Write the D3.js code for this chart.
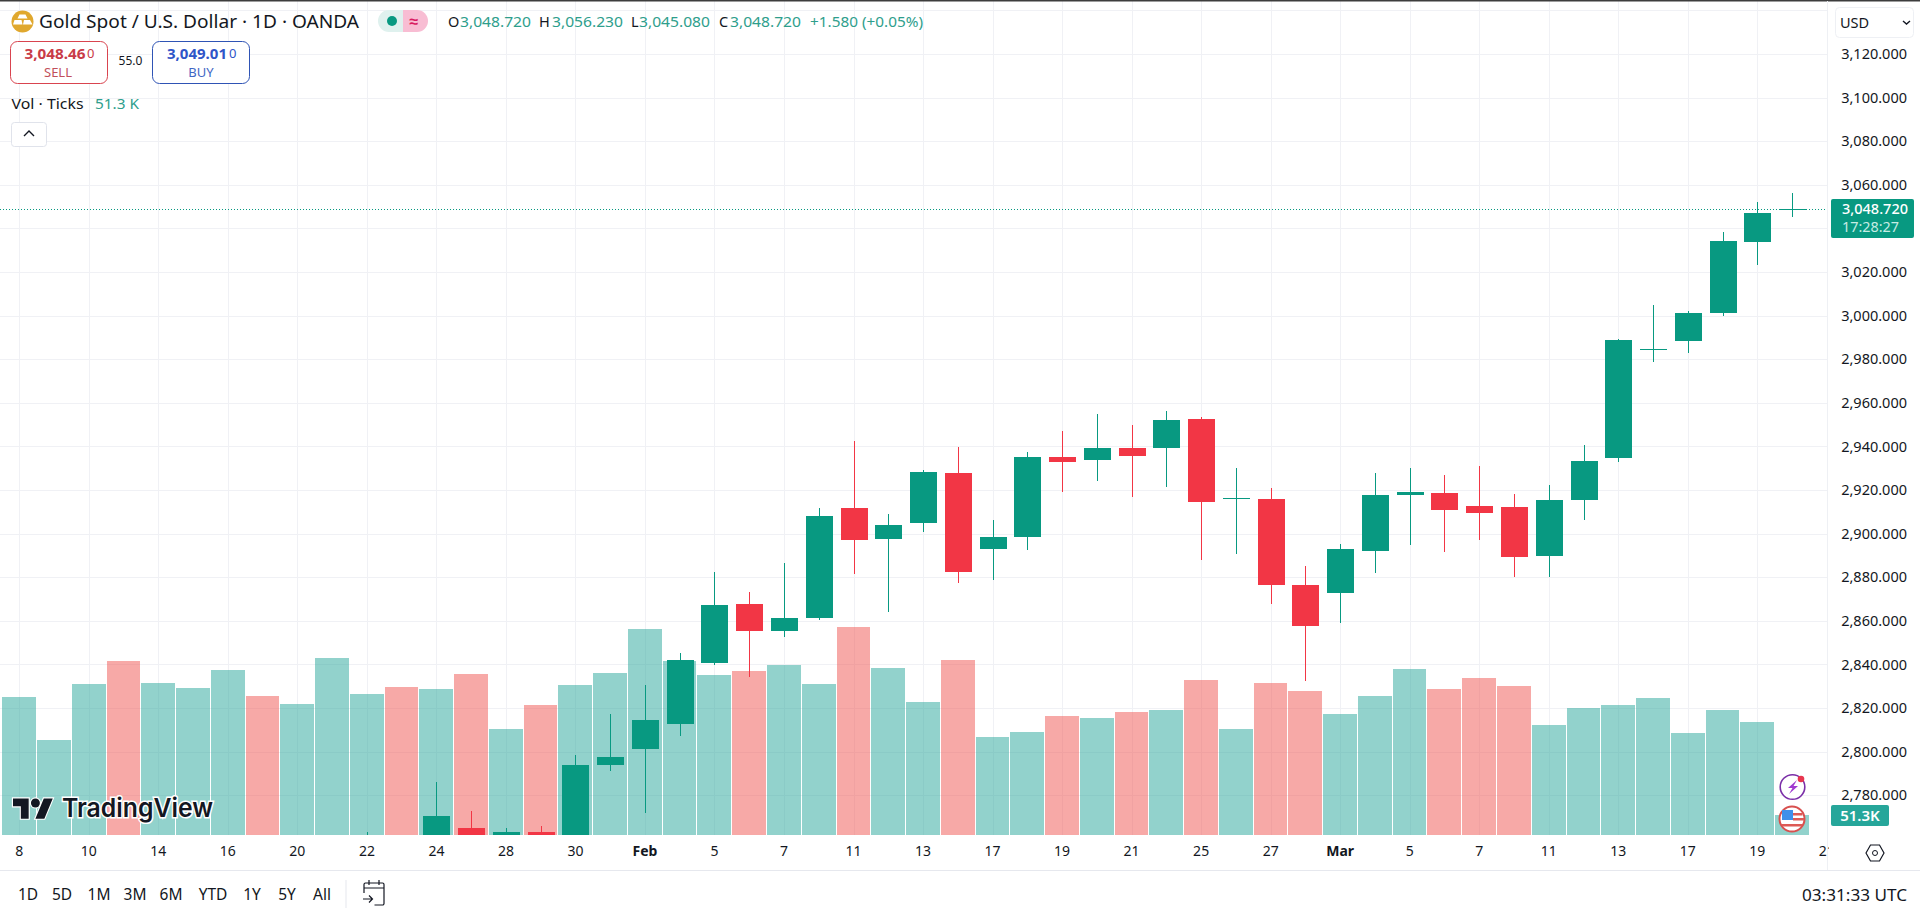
<!DOCTYPE html>
<meta charset="utf-8">
<style>
  html, body { margin: 0; background: #fff; overflow: hidden; }
  text { font-family: "Noto Sans", sans-serif; }
</style>
<script src="https://d3js.org/d3.v7.min.js"></script>
<div id="my_dataviz"></div>

<script>
// daily bars
const dates = ["Jan 8","Jan 9","Jan 10","Jan 13","Jan 14","Jan 15","Jan 16","Jan 17","Jan 20","Jan 21","Jan 22","Jan 23","Jan 24","Jan 27","Jan 28","Jan 29","Jan 30","Jan 31",
  "Feb 3","Feb 4","Feb 5","Feb 6","Feb 7","Feb 10","Feb 11","Feb 12","Feb 13","Feb 14","Feb 17","Feb 18","Feb 19","Feb 20","Feb 21","Feb 24","Feb 25","Feb 26","Feb 27","Feb 28",
  "Mar 3","Mar 4","Mar 5","Mar 6","Mar 7","Mar 10","Mar 11","Mar 12","Mar 13","Mar 14","Mar 17","Mar 18","Mar 19","Mar 20","Mar 21"];

// null = candle sits below the visible pane
const opens = [null,null,null,null,null,null,null,null,null,null,2745,null,
  2752,2765.1,2754,2763.3,2754,2794,2801.3,2812.8,2840.8,2867.8,2855.5,2861.4,2911.9,2897.7,
  2904.7,2927.9,2893.1,2898.3,2935.3,2933.9,2939.4,2939.4,2952.7,2916.3,2916,2876.6,2872.9,2892.2,
  2917.5,2918.8,2912.8,2912.3,2889.6,2915.2,2934.5,2984,2988.2,3001,3033.6,3048.72];
const highs = [null,null,null,null,null,null,null,null,null,null,2763.3,null,
  2786.2,2772.9,2765.1,2766,2798.6,2817.4,2830.7,2845.4,2882.5,2873.4,2886.7,2911.9,2942.6,2909.1,
  2929.2,2939.9,2906.4,2937.3,2947.2,2955,2949.9,2956.4,2953.6,2930.2,2921.1,2885.3,2895.4,2927.9,
  2930.1,2926.7,2930.8,2918.3,2922.4,2940.8,2989.2,3005,3002.2,3038.5,3052.2,3056.23];
const lows = [null,null,null,null,null,null,null,null,null,null,2740,null,
  2748,2748,2748,2748,2748,2791.2,2772,2807.3,2839.9,2834.3,2852.7,2860.5,2881.6,2864.2,
  2900.6,2877.2,2878.9,2892.3,2918.9,2924.3,2916.9,2921.5,2888,2890.8,2867.8,2832.5,2859.1,2882.1,
  2894.6,2891.4,2896.9,2880.2,2880.2,2906.1,2933,2978.5,2982.7,2999.7,3023,3045.08];
const closes = [null,null,null,null,null,null,null,null,null,null,2750,null,
  2770.6,2752,2763.3,2754,2794,2797.7,2814.6,2842.2,2867.4,2855.5,2861.4,2908.2,2897.2,2904.1,
  2928.4,2882.2,2898.6,2935.3,2933,2939.4,2935.7,2952.2,2914.6,2916.3,2876.6,2857.8,2893.1,2917.8,
  2919.2,2910.6,2909.3,2889.1,2915.5,2933.4,2988.9,2984.8,3001.3,3034.4,3047.2,3048.72];

// tick volume in thousands
const volumes = [354,244,387,446,390,377,423,357,336,454,362,380,374,413,272,333,385,416,528,446,410,421,436,387,534,428,
  341,449,251,264,305,300,316,321,398,272,390,369,310,357,426,374,403,382,282,326,333,351,262,321,290,51.3];
const downVolumeDates = ["Jan 13","Jan 17","Jan 23","Jan 27","Jan 29","Feb 6","Feb 11","Feb 14","Feb 19","Feb 21","Feb 25","Feb 27","Feb 28","Mar 6","Mar 7","Mar 10"];

const tickDates = ["Jan 8","Jan 10","Jan 14","Jan 16","Jan 20","Jan 22","Jan 24","Jan 28","Jan 30","Feb 3","Feb 5","Feb 7","Feb 11","Feb 13","Feb 17","Feb 19","Feb 21","Feb 25","Feb 27","Mar 3","Mar 5","Mar 7","Mar 11","Mar 13","Mar 17","Mar 19","Mar 21"];
const tickLabels = ["8","10","14","16","20","22","24","28","30","Feb","5","7","11","13","17","19","21","25","27","Mar","5","7","11","13","17","19","21"];
const priceGrid = [3140,3120,3100,3080,3060,3040,3020,3000,2980,2960,2940,2920,2900,2880,2860,2840,2820,2800,2780];
const priceLabels = [3120,3100,3080,3060,3020,3000,2980,2960,2940,2920,2900,2880,2860,2840,2820,2800,2780];
const rangeButtons = ["1D","5D","1M","3M","6M","YTD","1Y","5Y","All"];
const rangeCentres = [28,62,99,135,171,213,252,287,322];
const lastPrice = 3048.72;
const lastVolume = 51.3;

const up = "#089981", down = "#f23645";
const paneRight = 1827, paneBottom = 835;

const svg = d3.select("#my_dataviz").append("svg")
    .attr("width", 1920).attr("height", 911)
    .style("display", "block");

// scales
const x = d3.scaleBand().domain(dates).range([1.92, 1.92 + 34.76 * dates.length]);
const y = d3.scaleLinear().domain([3120, 2780]).range([54, 795.2]);
const yVol = d3.scaleLinear().domain([0, lastVolume]).range([paneBottom, paneBottom - 20]);
const cx = d => Math.round(x(d) + x.bandwidth() / 2);

svg.append("defs").append("clipPath").attr("id", "pane")
  .append("rect").attr("width", paneRight).attr("height", paneBottom);
svg.append("defs").append("clipPath").attr("id", "timeaxis")
  .append("rect").attr("y", paneBottom).attr("width", paneRight + 2).attr("height", 35);

// grid
const grid = svg.append("g").attr("stroke", "#f0f1f5").attr("shape-rendering", "crispEdges");
grid.selectAll(".h").data(priceGrid).join("line")
    .attr("x1", 0).attr("x2", paneRight)
    .attr("y1", d => Math.round(y(d)) + .5).attr("y2", d => Math.round(y(d)) + .5);
grid.selectAll(".v").data(tickDates).join("line")
    .attr("x1", d => cx(d) + .5).attr("x2", d => cx(d) + .5)
    .attr("y1", 1).attr("y2", paneBottom);

const pane = svg.append("g").attr("clip-path", "url(#pane)");

// volume, one pixel gap between bars
pane.append("g").attr("shape-rendering", "crispEdges")
  .selectAll("rect").data(dates.filter((d, i) => volumes[i] != null)).join("rect")
    .attr("x", d => cx(d) - 17)
    .attr("width", (d, i) => cx(dates[i + 1]) - cx(d) - 1)
    .attr("y", (d, i) => Math.round(yVol(volumes[i])))
    .attr("height", (d, i) => paneBottom - Math.round(yVol(volumes[i])))
    .attr("fill", d => downVolumeDates.includes(d) ? "#ef5350" : "#26a69a")
    .attr("fill-opacity", .5);

// last price line
pane.append("line")
    .attr("x1", 0).attr("x2", paneRight)
    .attr("y1", Math.round(y(lastPrice)) + .5).attr("y2", Math.round(y(lastPrice)) + .5)
    .attr("stroke", up).attr("stroke-dasharray", "1 2");

// candles
const candleData = dates.map((d, i) => ({date: d, o: opens[i], h: highs[i], l: lows[i], c: closes[i]}))
    .filter(d => d.o != null);
const candle = pane.append("g").attr("shape-rendering", "crispEdges")
  .selectAll("g").data(candleData).join("g")
    .attr("fill", d => d.c >= d.o ? up : down);
candle.append("rect")
    .attr("x", d => cx(d.date))
    .attr("width", 1)
    .attr("y", d => Math.round(y(d.h)))
    .attr("height", d => Math.round(y(d.l)) - Math.round(y(d.h)));
candle.append("rect")
    .attr("x", d => cx(d.date) - 13)
    .attr("width", 27)
    .attr("y", d => Math.round(y(Math.max(d.o, d.c))))
    .attr("height", d => Math.max(1, Math.round(y(Math.min(d.o, d.c))) - Math.round(y(Math.max(d.o, d.c)))));

// frame lines
svg.append("rect").attr("width", 1920).attr("height", 1.5).attr("fill", "#3d3d3d");
svg.append("rect").attr("y", 870).attr("width", 1920).attr("height", 1).attr("fill", "#e6e8ee");
svg.append("rect").attr("x", paneRight).attr("width", 1).attr("y", 1).attr("height", 869).attr("fill", "#eef0f4");

// axes
const priceAxis = svg.append("g").attr("transform", "translate(1907,0)")
    .call(d3.axisLeft(y).tickValues(priceLabels).tickFormat(d3.format(",.3f")).tickSize(0).tickPadding(0));
priceAxis.select(".domain").remove();
priceAxis.selectAll("text").attr("fill", "#131722").style("font-size", "14.5px").style("font-family", "'Noto Sans'");

const timeAxis = svg.append("g").attr("clip-path", "url(#timeaxis)")
  .append("g").attr("transform", "translate(0,846)")
    .call(d3.axisBottom(x).tickValues(tickDates).tickFormat((d, i) => tickLabels[i]).tickSize(0).tickPadding(0));
timeAxis.select(".domain").remove();
timeAxis.selectAll("text").attr("fill", "#131722").style("font-size", "14px").style("font-family", "'Noto Sans'")
    .style("font-weight", (d, i) => (tickLabels[i] === "Feb" || tickLabels[i] === "Mar") ? 700 : 400);

function label(px, py, str, size, fill, o) {
  o = o || {};
  const t = svg.append("text").attr("x", px).attr("y", py).attr("dy", ".35em")
      .attr("font-size", size).attr("fill", fill)
      .attr("text-anchor", o.anchor || "start")
      .attr("font-weight", o.weight || 400)
      .text(str);
  if (o.len) t.attr("textLength", o.len).attr("lengthAdjust", "spacingAndGlyphs");
  return t;
}

// header: symbol
svg.append("circle").attr("cx", 22.5).attr("cy", 21.5).attr("r", 11).attr("fill", "#e0a82e");
svg.append("g").attr("fill", "#fff").selectAll("path")
  .data(["M19.5 14.5h6l2 4h-10z", "M14.5 20h7l1 4.5h-9.5z", "M24 20h6l2.5 4.5h-9.5z"])
  .join("path").attr("d", d => d);
label(39, 22, "Gold Spot / U.S. Dollar · 1D · OANDA", 17.5, "#131722", {len: 320});

svg.append("path").attr("d", "M403 10h-14a11 11 0 0 0 0 22h14z").attr("fill", "#dff1ee");
svg.append("path").attr("d", "M403 10h14a11 11 0 0 1 0 22h-14z").attr("fill", "#f8bdd3");
svg.append("circle").attr("cx", 392).attr("cy", 21).attr("r", 5).attr("fill", up);
label(414, 21, "≈", 16, "#d81b60", {anchor: "middle", weight: 700});

// OHLC values
const ohlcText = [
  [448, "O", "#131722", 0], [460, "3,048.720", "#2e9e8c", 71],
  [539, "H", "#131722", 0], [552, "3,056.230", "#2e9e8c", 71],
  [631, "L", "#131722", 0], [639, "3,045.080", "#2e9e8c", 71],
  [719, "C", "#131722", 0], [730, "3,048.720", "#2e9e8c", 71],
  [810, "+1.580 (+0.05%)", "#2e9e8c", 113]];
ohlcText.forEach(d => label(d[0], 21.5, d[1], 14.5, d[2], d[3] ? {len: d[3]} : {}));

// sell / buy boxes
svg.append("rect").attr("x", 10.5).attr("y", 41.5).attr("width", 97).attr("height", 42).attr("rx", 7)
    .attr("fill", "#fff").attr("stroke", "#d9444f");
svg.append("rect").attr("x", 152.5).attr("y", 41.5).attr("width", 97).attr("height", 42).attr("rx", 7)
    .attr("fill", "#fff").attr("stroke", "#2f54b5");
label(24.5, 54, "3,048.46", 14, "#c93b47", {weight: 700, len: 61});
label(87, 53, "0", 13, "#c93b47");
label(58, 72, "SELL", 13, "#c24f5b", {anchor: "middle"});
label(130.5, 61, "55.0", 12, "#131722", {anchor: "middle"});
label(167, 54, "3,049.01", 14, "#2f55c8", {weight: 700, len: 60});
label(229, 53, "0", 13, "#2f55c8");
label(201, 72, "BUY", 13, "#3f66c4", {anchor: "middle"});

// volume legend + collapse button
label(11.5, 104, "Vol · Ticks", 14, "#131722", {len: 72});
label(95, 104, "51.3 K", 14, "#2e9e8c", {len: 44});
svg.append("rect").attr("x", 11.5).attr("y", 122.5).attr("width", 35).attr("height", 24).attr("rx", 3)
    .attr("fill", "#fff").attr("stroke", "#e0e3eb");
svg.append("path").attr("d", "M24 136l5-5 5 5").attr("fill", "none").attr("stroke", "#131722").attr("stroke-width", 1.4);

// currency selector
svg.append("rect").attr("x", 1835.5).attr("y", 7.5).attr("width", 78).attr("height", 30).attr("rx", 4)
    .attr("fill", "#fff").attr("stroke", "#eef0f4");
label(1840, 22.5, "USD", 14.5, "#131722");
svg.append("path").attr("d", "M1903 21l3.5 3 3.5-3").attr("fill", "none").attr("stroke", "#131722").attr("stroke-width", 1.4);

// price and volume tags
svg.append("rect").attr("x", 1831).attr("y", 199).attr("width", 83).attr("height", 39).attr("rx", 2).attr("fill", up);
label(1842, 209, d3.format(",.3f")(lastPrice), 15, "#fff", {weight: 500, len: 66});
label(1842, 227, "17:28:27", 15, "#c6ece4", {len: 57});
svg.append("rect").attr("x", 1831).attr("y", 805).attr("width", 58).attr("height", 21).attr("rx", 2).attr("fill", "#26a69a");
label(1860, 815.5, lastVolume + "K", 15, "#fff", {anchor: "middle", weight: 600});

// settings icon
svg.append("path").attr("d", "M1866 853l4.5-8h9l4.5 8-4.5 8h-9z").attr("fill", "none").attr("stroke", "#131722").attr("stroke-width", 1.2);
svg.append("circle").attr("cx", 1875).attr("cy", 853).attr("r", 2.5).attr("fill", "none").attr("stroke", "#131722");

// event icons
svg.append("circle").attr("cx", 1792.5).attr("cy", 787).attr("r", 12.3).attr("fill", "#fff").attr("stroke", "#7b2fa8").attr("stroke-width", 1.6);
svg.append("path").attr("d", "M1797 780l-9 8h4.5l-3.5 6 9-8h-4.5z").attr("fill", "#a03ad0");
svg.append("circle").attr("cx", 1801).attr("cy", 779).attr("r", 3.3).attr("fill", "#e8364f");
svg.append("circle").attr("cx", 1792).attr("cy", 819).attr("r", 12.5).attr("fill", "#fff").attr("stroke", "#d8504f").attr("stroke-width", 2);
svg.append("path").attr("d", "M1793 813h9.5v2.5h-9.5zM1793 818h11v2.5h-11zM1782 824h20v2.5h-20z").attr("fill", "#dd5a55");
svg.append("rect").attr("x", 1782).attr("y", 810).attr("width", 11).attr("height", 10).attr("fill", "#3f90ea");

// watermark
const wm = svg.append("g").attr("transform", "translate(13,794) scale(1.12)")
    .attr("fill", "#131722").attr("stroke", "#fff").attr("stroke-width", 2).attr("paint-order", "stroke");
wm.append("path").attr("d", "M14 22H7V11H0V4h14v18zM28 22h-8l7.5-18h8L28 22z");
wm.append("circle").attr("cx", 20).attr("cy", 8).attr("r", 4);
label(62, 808, "TradingView", 26, "#131722", {weight: 600, len: 151})
    .style("font-family", "Inter")
    .attr("stroke", "#fff").attr("stroke-width", 3).attr("paint-order", "stroke");

// bottom toolbar
svg.append("g").selectAll("text").data(rangeButtons).join("text")
    .attr("x", (d, i) => rangeCentres[i]).attr("y", 895).attr("dy", ".35em")
    .attr("text-anchor", "middle").attr("font-size", 15.5).attr("fill", "#131722")
    .text(d => d);
svg.append("rect").attr("x", 345.5).attr("y", 880).attr("width", 1).attr("height", 28).attr("fill", "#e6e8ee");
svg.append("path")
    .attr("d", "M364 893v-8.5a1.5 1.5 0 0 1 1.5-1.5h17a1.5 1.5 0 0 1 1.5 1.5v19a1.5 1.5 0 0 1-1.5 1.5h-8M364 888h20M369 880v5M379 880v5M363 899h9M369 895.5l3.5 3.5-3.5 3.5")
    .attr("fill", "none").attr("stroke", "#131722").attr("stroke-width", 1.2);
label(1802, 895, "03:31:33 UTC", 16, "#131722", {len: 105});
</script>
